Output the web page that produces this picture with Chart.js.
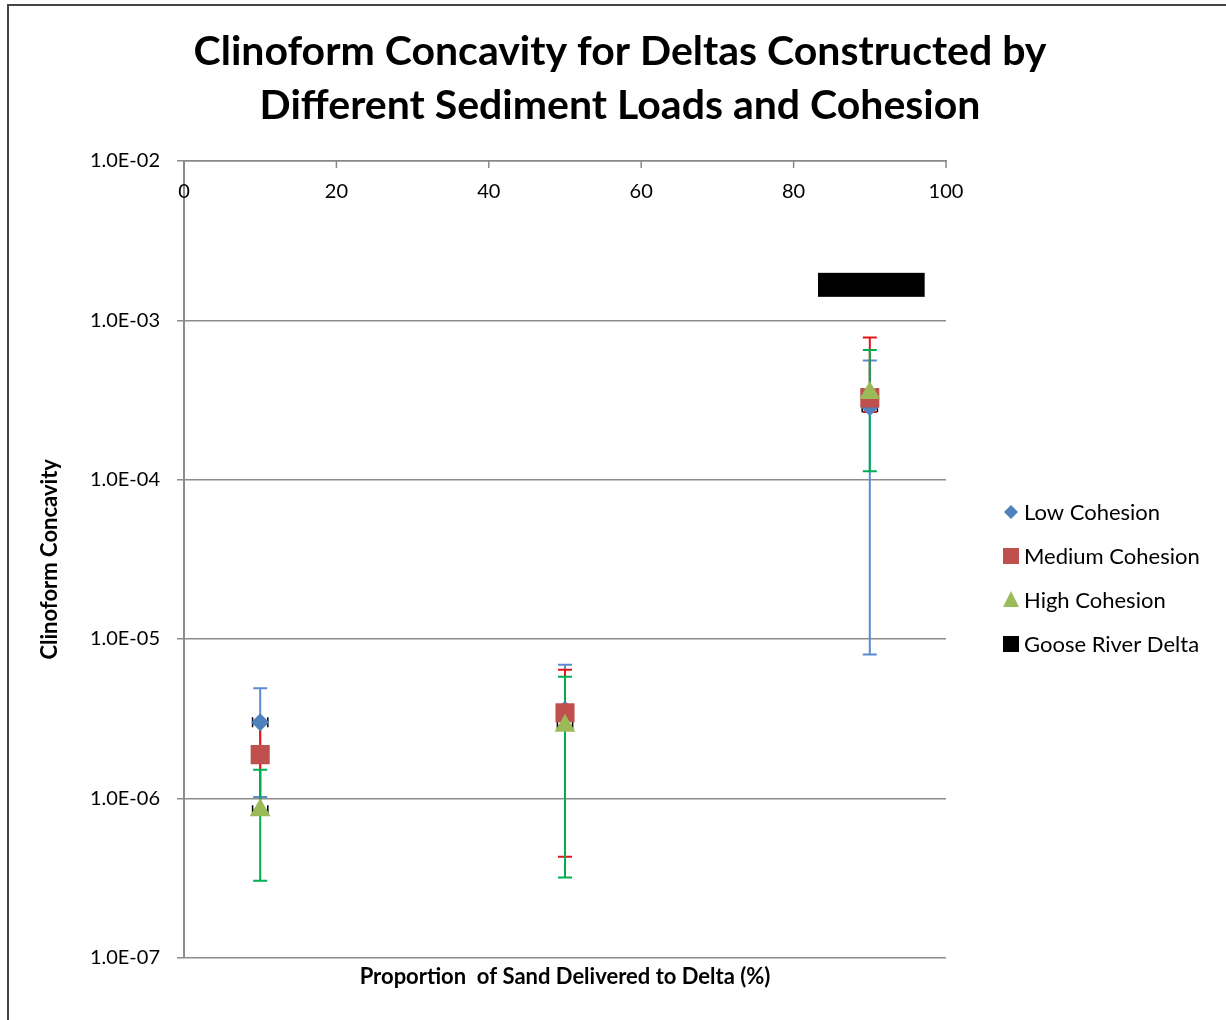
<!DOCTYPE html>
<html lang="en">
<head>
    <meta charset="UTF-8">
    <title>Clinoform Concavity</title>
    <script src="https://cdn.jsdelivr.net/npm/chart.js"></script>
    <style>
        body { margin: 0; background: #fff; }
        canvas { display: block; }
    </style>
</head>
<body>
    <canvas id="chart" width="1226" height="1020"></canvas>
    <script>
        // proportion of sand (%)
        const sandPct = [10, 50, 90];

        // low cohesion
        const lowY = [3.0e-6, 3.6e-6, 2.85e-4];
        const lowHi = [4.9e-6, 6.9e-6, 5.6e-4];
        const lowLo = [1.02e-6, 3.45e-6, 8.0e-6];

        // medium cohesion
        const medY = [1.88e-6, 3.44e-6, 3.26e-4];
        const medHi = [3.0e-6, 6.4e-6, 7.8e-4];
        const medLo = [7.9e-7, 4.3e-7, 2.66e-4];

        // high cohesion
        const highY = [8.4e-7, 2.85e-6, 3.5e-4];
        const highHi = [1.51e-6, 5.8e-6, 6.5e-4];
        const highLo = [3.04e-7, 3.18e-7, 1.13e-4];

        // horizontal error (%)
        const xErr = [1, 1, 1];

        // Goose River Delta
        const gooseX = [90.2];
        const gooseY = [1.67e-3];
        const gooseXErr = [7];

        const xTicks = [0, 20, 40, 60, 80, 100];
        const yTicks = [1e-7, 1e-6, 1e-5, 1e-4, 1e-3, 1e-2];

        const FONT = 'Lato, "Open Sans", sans-serif';

        function pts(xs, ys) {
            return xs.map((v, i) => ({ x: v, y: ys[i] }));
        }

        function sci(v) {
            const e = Math.round(Math.log10(v));
            return '1.0E' + (e < 0 ? '-' : '+') + String(Math.abs(e)).padStart(2, '0');
        }

        // frame + white background
        const frame = {
            id: 'frame',
            beforeDraw(chart) {
                const ctx = chart.ctx;
                ctx.save();
                ctx.fillStyle = '#fff';
                ctx.fillRect(0, 0, chart.width, chart.height);
                ctx.strokeStyle = '#444';
                ctx.lineWidth = 2;
                ctx.beginPath();
                ctx.moveTo(8, chart.height + 2);
                ctx.lineTo(8, 5);
                ctx.lineTo(chart.width + 2, 5);
                ctx.stroke();
                ctx.restore();
            }
        };

        // error bars drawn under the markers
        const errorBars = {
            id: 'errorBars',
            beforeDatasetsDraw(chart) {
                const { ctx, scales: { x, y } } = chart;
                ctx.save();
                ctx.lineWidth = 2;
                const sets = chart.data.datasets.filter(d => d.yHi);
                sets.forEach(ds => {
                    ctx.strokeStyle = ds.errColor;
                    ds.data.forEach((p, i) => {
                        const px = x.getPixelForValue(p.x);
                        const top = y.getPixelForValue(ds.yHi[i]);
                        const bot = y.getPixelForValue(ds.yLo[i]);
                        ctx.beginPath();
                        ctx.moveTo(px, top); ctx.lineTo(px, bot);
                        ctx.moveTo(px - 7, top); ctx.lineTo(px + 7, top);
                        ctx.moveTo(px - 7, bot); ctx.lineTo(px + 7, bot);
                        ctx.stroke();
                    });
                });
                // x error bars
                ctx.strokeStyle = '#000';
                ctx.lineWidth = 1.5;
                sets.forEach(ds => {
                    ds.data.forEach((p, i) => {
                        const py = y.getPixelForValue(p.y);
                        const l = x.getPixelForValue(p.x - ds.xErr[i]);
                        const r = x.getPixelForValue(p.x + ds.xErr[i]);
                        ctx.beginPath();
                        ctx.moveTo(l, py); ctx.lineTo(r, py);
                        ctx.moveTo(l, py - 5); ctx.lineTo(l, py + 5);
                        ctx.moveTo(r, py - 5); ctx.lineTo(r, py + 5);
                        ctx.stroke();
                    });
                });
                ctx.restore();
            },
            afterDatasetsDraw(chart) {
                const { ctx, scales: { x, y } } = chart;
                ctx.save();
                ctx.fillStyle = '#000';
                chart.data.datasets.filter(d => d.barErr).forEach(ds => {
                    ds.data.forEach((p, i) => {
                        const l = x.getPixelForValue(p.x - ds.barErr[i]);
                        const r = x.getPixelForValue(p.x + ds.barErr[i]);
                        const py = y.getPixelForValue(p.y);
                        ctx.fillRect(l, py - 12, r - l, 24);
                    });
                });
                ctx.restore();
            }
        };

        // x tick labels and inside ticks under the top axis, plus legend
        const extras = {
            id: 'extras',
            afterDraw(chart) {
                const { ctx, chartArea, scales: { x } } = chart;
                ctx.save();
                ctx.strokeStyle = '#888';
                ctx.lineWidth = 1.5;
                ctx.fillStyle = '#000';
                ctx.font = '20px ' + FONT;
                ctx.textAlign = 'center';
                ctx.textBaseline = 'middle';
                xTicks.forEach(v => {
                    const px = x.getPixelForValue(v);
                    ctx.beginPath();
                    ctx.moveTo(px, chartArea.top);
                    ctx.lineTo(px, chartArea.top + 7);
                    ctx.stroke();
                    ctx.fillText(String(v), px, chartArea.top + 31);
                });

                // legend
                const lx = 1011, ly0 = 512, step = 44;
                ctx.textAlign = 'left';
                ctx.font = '22px ' + FONT;
                chart.data.datasets.forEach((ds, i) => {
                    const cy = ly0 + i * step;
                    ctx.fillStyle = ds.backgroundColor;
                    ctx.beginPath();
                    if (ds.pointStyle === 'rectRot') {
                        ctx.moveTo(lx, cy - 7); ctx.lineTo(lx + 7, cy);
                        ctx.lineTo(lx, cy + 7); ctx.lineTo(lx - 7, cy);
                    } else if (ds.pointStyle === 'triangle') {
                        ctx.moveTo(lx, cy - 9); ctx.lineTo(lx + 8, cy + 7);
                        ctx.lineTo(lx - 8, cy + 7);
                    } else {
                        ctx.rect(lx - 8, cy - 8, 16, 16);
                    }
                    ctx.closePath();
                    ctx.fill();
                    ctx.fillStyle = '#000';
                    ctx.fillText(ds.label, lx + 13, cy + 1);
                });
                ctx.restore();
            }
        };

        new Chart(document.getElementById('chart'), {
            type: 'scatter',
            data: {
                datasets: [
                    {
                        label: 'Low Cohesion',
                        data: pts(sandPct, lowY),
                        yHi: lowHi, yLo: lowLo, xErr: xErr,
                        errColor: '#5b8bd0',
                        pointStyle: 'rectRot',
                        pointRadius: 9,
                        backgroundColor: '#4f81bd',
                        borderColor: '#4f81bd',
                        borderWidth: 0,
                        order: 3
                    },
                    {
                        label: 'Medium Cohesion',
                        data: pts(sandPct, medY),
                        yHi: medHi, yLo: medLo, xErr: xErr,
                        errColor: '#e3161b',
                        pointStyle: 'rect',
                        pointRadius: 13.5,
                        backgroundColor: '#c0504d',
                        borderColor: '#c0504d',
                        borderWidth: 0,
                        order: 2
                    },
                    {
                        label: 'High Cohesion',
                        data: pts(sandPct, highY),
                        yHi: highHi, yLo: highLo, xErr: xErr,
                        errColor: '#00b050',
                        pointStyle: 'triangle',
                        pointRadius: 12,
                        backgroundColor: '#9bbb59',
                        borderColor: '#9bbb59',
                        borderWidth: 0,
                        order: 1
                    },
                    {
                        label: 'Goose River Delta',
                        data: pts(gooseX, gooseY),
                        barErr: gooseXErr,
                        pointStyle: 'rect',
                        pointRadius: 10,
                        backgroundColor: '#000',
                        borderColor: '#000',
                        borderWidth: 0,
                        order: 0
                    }
                ]
            },
            options: {
                responsive: false,
                animation: false,
                layout: { padding: { left: 14, right: 0, top: 0, bottom: 30 } },
                scales: {
                    x: {
                        type: 'linear',
                        position: 'top',
                        min: 0,
                        max: 100,
                        ticks: { display: false },
                        grid: { drawOnChartArea: false, drawTicks: false },
                        border: { color: '#888', width: 1.5 }
                    },
                    x2: {
                        type: 'linear',
                        position: 'bottom',
                        min: 0,
                        max: 100,
                        ticks: { display: false },
                        grid: { display: false, drawTicks: false },
                        border: { display: false },
                        title: {
                            display: true,
                            text: 'Proportion  of Sand Delivered to Delta (%)',
                            color: '#000',
                            font: { family: FONT, size: 22, weight: 'bold', lineHeight: 1.2 },
                            padding: { top: 6, bottom: 0 }
                        }
                    },
                    y: {
                        type: 'logarithmic',
                        min: 1e-7,
                        max: 1e-2,
                        afterBuildTicks(scale) {
                            scale.ticks = yTicks.map(v => ({ value: v }));
                        },
                        afterFit(scale) {
                            scale.width = 170;
                        },
                        ticks: {
                            color: '#000',
                            font: { family: FONT, size: 20 },
                            padding: 17,
                            callback: v => sci(v)
                        },
                        grid: { color: '#8c8c8c', lineWidth: 1.5, tickLength: 7 },
                        border: { color: '#8c8c8c', width: 2 },
                        title: {
                            display: true,
                            text: 'Clinoform Concavity',
                            color: '#000',
                            font: { family: FONT, size: 22, weight: 'bold', lineHeight: 1.2 },
                            padding: { top: 23, bottom: 0 }
                        }
                    },
                    yR: {
                        type: 'linear',
                        position: 'right',
                        ticks: { display: false },
                        grid: { display: false, drawTicks: false },
                        border: { display: false },
                        afterFit(scale) {
                            scale.width = 280;
                        }
                    }
                },
                plugins: {
                    legend: { display: false },
                    tooltip: { enabled: false },
                    title: {
                        display: true,
                        text: ['Clinoform Concavity for Deltas Constructed by',
                               'Different Sediment Loads and Cohesion'],
                        color: '#000',
                        font: { family: FONT, size: 41, weight: 'bold', lineHeight: 1.317 },
                        padding: { top: 25, bottom: 28 }
                    }
                }
            },
            plugins: [frame, errorBars, extras]
        });
    </script>
</body>
</html>
